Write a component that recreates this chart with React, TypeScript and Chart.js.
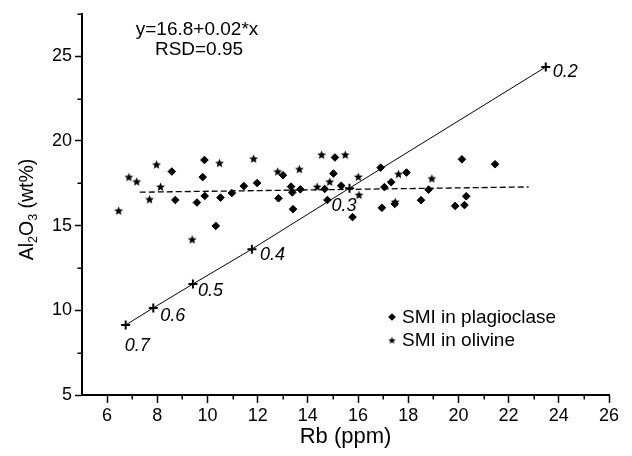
import React, { useEffect, useRef } from 'react';
import { Chart, registerables } from 'chart.js';

Chart.register(...registerables);

// ---- data ----
const plagioclaseRb = [
  8.58, 9.88, 9.81, 8.72, 9.58, 9.89, 10.52, 10.97, 10.33, 11.45, 11.98, 13.01,
  13.33, 13.38, 13.7, 12.83, 13.41, 15.08, 15.02, 14.67, 15.33, 14.78, 15.78,
  16.9, 20.14, 21.46, 17.93, 17.32, 17.05, 18.81, 18.51, 20.31, 16.95, 17.46,
  19.87, 20.24,
];
const plagioclaseAl2O3 = [
  18.19, 18.87, 17.86, 16.51, 16.36, 16.75, 16.65, 16.92, 14.98, 17.33, 17.51,
  17.97, 17.3, 16.96, 17.14, 16.61, 15.97, 19.02, 18.07, 17.16, 17.35, 16.51,
  15.5, 18.42, 18.91, 18.62, 18.13, 17.56, 17.27, 17.12, 16.5, 16.73, 16.05,
  16.28, 16.16, 16.21,
];
const olivineRb = [
  6.87, 7.18, 7.97, 8.13, 7.69, 6.46, 10.48, 9.39, 11.84, 12.8, 13.66, 14.55,
  15.49, 14.37, 14.87, 16.01, 16.04, 17.61, 18.94, 17.48,
];
const olivineAl2O3 = [
  17.88, 17.62, 18.62, 17.31, 16.57, 15.9, 18.71, 14.2, 18.97, 18.21, 18.35,
  19.2, 19.2, 17.31, 17.61, 17.9, 16.83, 18.06, 17.8, 16.42,
];
const mixingRb = [6.74, 7.84, 9.42, 11.77, 15.66, 23.48];
const mixingAl2O3 = [9.13, 10.14, 11.55, 13.61, 17.21, 24.36];
const mixingLabels = ['0.7', '0.6', '0.5', '0.4', '0.3', '0.2'];
const regressionRb = [7.3, 22.8];
const regressionAl2O3 = [16.97, 17.28];
const xTickLabels = [6, 8, 10, 12, 14, 16, 18, 20, 22, 24, 26];
const yTickLabels = [5, 10, 15, 20, 25];
const xMinorTicks = [7, 9, 11, 13, 15, 17, 19, 21, 23, 25];
const yMinorTicks = [7.5, 12.5, 17.5, 22.5, 27.5];
const legendLabels = ['SMI in plagioclase', 'SMI in olivine'];
const equationLines = ['y=16.8+0.02*x', 'RSD=0.95'];
const xTitle = 'Rb (ppm)';
const yTitleParts: [string, boolean][] = [
  ['Al', false],
  ['2', true],
  ['O', false],
  ['3', true],
  [' (wt%)', false],
];

// ---- styles ----
const FONT = "'Liberation Sans', Arial, Helvetica, sans-serif";
const labelOffsets: [number, number][] = [
  [-1, 21],
  [7, 8],
  [5, 7],
  [8, 5.5],
  [-18, 18],
  [7, 5],
];

function makeStar(size: number, outer: number, inner: number): HTMLCanvasElement {
  const c = document.createElement('canvas');
  c.width = size;
  c.height = size;
  const g = c.getContext('2d')!;
  g.fillStyle = '#000';
  g.beginPath();
  for (let i = 0; i < 10; i++) {
    const r = i % 2 === 0 ? outer : inner;
    const a = -Math.PI / 2 + (i * Math.PI) / 5;
    const px = size / 2 + r * Math.cos(a);
    const py = size / 2 + 0.6 + r * Math.sin(a);
    if (i === 0) g.moveTo(px, py);
    else g.lineTo(px, py);
  }
  g.closePath();
  g.fill();
  return c;
}

const pts = (xs: number[], ys: number[]) => xs.map((x, i) => ({ x, y: ys[i] }));

export default function App() {
  const ref = useRef<HTMLCanvasElement>(null);

  useEffect(() => {
    const star = makeStar(11, 4.7, 2.1);
    const smallStar = makeStar(9, 3.9, 1.7);

    const decor = {
      id: 'decor',
      afterDraw(chart: any) {
        const ctx: CanvasRenderingContext2D = chart.ctx;
        const xs = chart.scales.x;
        const ys = chart.scales.y;
        const area = chart.chartArea;
        ctx.save();
        ctx.strokeStyle = '#000';
        ctx.fillStyle = '#000';
        ctx.lineWidth = 1.5;
        // minor ticks
        for (const v of xMinorTicks) {
          const px = Math.round(xs.getPixelForValue(v)) + 0.25;
          ctx.beginPath();
          ctx.moveTo(px, area.bottom);
          ctx.lineTo(px, area.bottom + 4.5);
          ctx.stroke();
        }
        for (const v of yMinorTicks) {
          const py = Math.round(ys.getPixelForValue(v)) + 0.25;
          ctx.beginPath();
          ctx.moveTo(area.left - 4.5, py);
          ctx.lineTo(area.left, py);
          ctx.stroke();
        }
        // mixing labels
        ctx.font = `italic 18px ${FONT}`;
        ctx.textBaseline = 'middle';
        ctx.textAlign = 'left';
        mixingLabels.forEach((t, i) => {
          const px = xs.getPixelForValue(mixingRb[i]);
          const py = ys.getPixelForValue(mixingAl2O3[i]);
          ctx.fillText(t, px + labelOffsets[i][0], py + labelOffsets[i][1]);
        });
        // equation
        ctx.font = `19px ${FONT}`;
        ctx.textAlign = 'center';
        ctx.fillText(equationLines[0], 197, 30);
        ctx.fillText(equationLines[1], 199, 50);
        // legend
        ctx.textAlign = 'left';
        const lx = 392;
        const ly = [317, 340];
        ctx.beginPath();
        ctx.moveTo(lx, ly[0] - 3.8);
        ctx.lineTo(lx + 3.8, ly[0]);
        ctx.lineTo(lx, ly[0] + 3.8);
        ctx.lineTo(lx - 3.8, ly[0]);
        ctx.closePath();
        ctx.fill();
        ctx.drawImage(smallStar, lx - smallStar.width / 2, ly[1] - smallStar.height / 2);
        ctx.fillText(legendLabels[0], 402, ly[0] + 1);
        ctx.fillText(legendLabels[1], 402, ly[1] + 1);
        // y title with subscripts
        const fs = 19.5;
        const sfs = 12.5;
        ctx.translate(25.5, 209.5);
        ctx.rotate(-Math.PI / 2);
        ctx.textBaseline = 'alphabetic';
        let total = 0;
        for (const [t, sub] of yTitleParts) {
          ctx.font = `${sub ? sfs : fs}px ${FONT}`;
          total += ctx.measureText(t).width;
        }
        let cx = -total / 2;
        const base = fs * 0.36;
        for (const [t, sub] of yTitleParts) {
          ctx.font = `${sub ? sfs : fs}px ${FONT}`;
          ctx.fillText(t, cx, sub ? base + fs * 0.22 : base);
          cx += ctx.measureText(t).width;
        }
        ctx.restore();
      },
    };

    const chart = new Chart(ref.current!, {
      type: 'scatter',
      data: {
        datasets: [
          {
            label: legendLabels[0],
            data: pts(plagioclaseRb, plagioclaseAl2O3),
            pointStyle: 'rectRot',
            pointRadius: 3.8,
            backgroundColor: '#000',
            borderColor: '#000',
            borderWidth: 1,
          },
          {
            label: legendLabels[1],
            data: pts(olivineRb, olivineAl2O3),
            pointStyle: star as any,
            pointRadius: 4,
            backgroundColor: '#000',
            borderColor: '#000',
          },
          {
            label: 'mixing',
            data: pts(mixingRb, mixingAl2O3),
            showLine: true,
            borderColor: '#000',
            borderWidth: 1,
            pointStyle: 'cross',
            pointRadius: 4.5,
            pointBorderWidth: 2,
            pointBorderColor: '#000',
            pointBackgroundColor: '#000',
          },
          {
            label: 'regression',
            data: pts(regressionRb, regressionAl2O3),
            showLine: true,
            borderColor: '#000',
            borderWidth: 1.3,
            borderDash: [6, 3],
            pointRadius: 0,
          },
        ],
      },
      options: {
        responsive: false,
        animation: false,
        devicePixelRatio: 1,
        layout: { padding: { left: 0, top: 9, right: 23, bottom: 0 } },
        plugins: {
          legend: { display: false },
          tooltip: { enabled: false },
        },
        scales: {
          x: {
            type: 'linear',
            min: 5,
            max: 26,
            afterFit: (s: any) => {
              s.height = 61;
            },
            ticks: {
              stepSize: 1,
              autoSkip: false,
              maxRotation: 0,
              padding: 2,
              color: '#000',
              font: { size: 18, family: FONT },
              callback: (v: any) => (xTickLabels.includes(Number(v)) ? String(v) : ''),
            },
            grid: {
              drawOnChartArea: false,
              drawTicks: true,
              tickLength: 8,
              tickWidth: 1.5,
              tickColor: (c: any) =>
                c.tick && xTickLabels.includes(c.tick.value) ? '#000' : 'rgba(0,0,0,0)',
            },
            border: { display: true, color: '#000', width: 2 },
            title: {
              display: true,
              text: xTitle,
              color: '#000',
              font: { size: 22, family: FONT },
              padding: { top: 6, bottom: 6 },
            },
          },
          y: {
            type: 'linear',
            min: 5,
            max: 27.5,
            afterFit: (s: any) => {
              s.width = 82;
            },
            ticks: {
              stepSize: 2.5,
              autoSkip: false,
              padding: 3,
              color: '#000',
              font: { size: 18, family: FONT },
              callback: (v: any) => (yTickLabels.includes(Number(v)) ? String(v) : ''),
            },
            grid: {
              drawOnChartArea: false,
              drawTicks: true,
              tickLength: 7,
              tickWidth: 1.5,
              tickColor: (c: any) =>
                c.tick && yTickLabels.includes(c.tick.value) ? '#000' : 'rgba(0,0,0,0)',
            },
            border: { display: true, color: '#000', width: 2 },
          },
        },
      },
      plugins: [decor],
    } as any);

    return () => chart.destroy();
  }, []);

  return (
    <div style={{ position: 'fixed', left: 0, top: 0, width: 632, height: 456, background: '#fff' }}>
      <canvas ref={ref} width={632} height={456} style={{ width: 632, height: 456, display: 'block' }} />
    </div>
  );
}
